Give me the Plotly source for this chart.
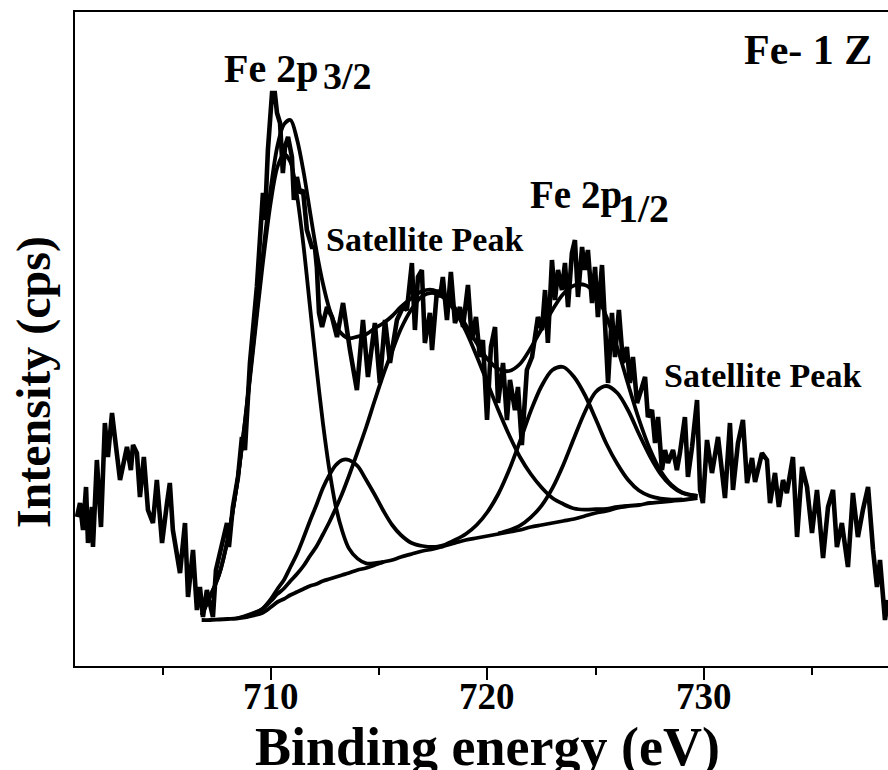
import plotly.graph_objects as go

# ---------------- data (binding energy in eV, intensity in arbitrary units) ----------------
raw_E = [701.04, 701.18, 701.32, 701.46, 701.55, 701.73, 701.78, 701.96, 702.15, 702.33, 702.47, 702.66,
         702.79, 703.03, 703.35, 703.53, 703.63, 703.81, 703.95, 704.13, 704.32, 704.55, 704.73, 704.97,
         705.20, 705.33, 705.47, 705.80, 706.03, 706.17, 706.40, 706.58, 706.72, 706.86, 707.04, 707.18,
         707.32, 707.46, 707.74, 707.97, 708.06, 708.24, 708.48, 708.66, 708.80, 708.94, 709.03, 709.35,
         709.63, 709.72, 709.86, 710.05, 710.18, 710.28, 710.42, 710.55, 710.65, 710.79, 710.97, 711.06,
         711.20, 711.34, 711.48, 711.66, 711.89, 712.03, 712.12, 712.22, 712.36, 712.59, 712.82, 713.05,
         713.33, 713.65, 713.97, 714.25, 714.48, 714.80, 715.03, 715.27, 715.50, 715.82, 716.10, 716.28,
         716.51, 716.65, 716.79, 716.97, 717.11, 717.34, 717.44, 717.67, 717.81, 717.94, 718.13, 718.31,
         718.50, 718.73, 718.87, 719.10, 719.28, 719.47, 719.65, 719.79, 719.98, 720.16, 720.35, 720.49,
         720.72, 720.90, 721.04, 721.27, 721.41, 721.59, 721.82, 722.06, 722.19, 722.33, 722.52, 722.66,
         722.79, 722.98, 723.12, 723.26, 723.44, 723.58, 723.72, 723.90, 724.04, 724.18, 724.37, 724.50,
         724.64, 724.83, 724.97, 725.10, 725.29, 725.43, 725.57, 725.75, 725.89, 726.07, 726.26, 726.44,
         726.58, 726.72, 726.91, 727.14, 727.28, 727.41, 727.60, 727.74, 727.88, 728.06, 728.20, 728.34,
         728.57, 728.75, 728.89, 729.12, 729.26, 729.45, 729.68, 729.82, 729.95, 730.14, 730.37, 730.65,
         730.97, 731.20, 731.34, 731.57, 731.80, 731.99, 732.22, 732.36, 732.68, 732.91, 733.05, 733.28,
         733.46, 733.65, 733.83, 734.11, 734.30, 734.53, 734.76, 734.99, 735.22, 735.50, 735.73, 735.96,
         736.14, 736.37, 736.65, 736.88, 737.11, 737.34, 737.58, 737.81, 737.99, 738.13, 738.36, 738.50]
raw_I = [149, 163, 136, 179, 123, 159, 119, 206, 139, 243, 209, 253,
         229, 186, 219, 196, 221, 213, 169, 209, 156, 143, 186, 123,
         163, 183, 136, 93, 143, 69, 116, 56, 79, 49, 76, 63,
         49, 96, 123, 143, 119, 159, 189, 229, 216, 276, 303, 379,
         473, 446, 516, 573, 573, 553, 543, 493, 519, 529, 509, 466,
         489, 473, 476, 436, 419, 419, 399, 353, 339, 359, 349, 329,
         363, 316, 276, 346, 289, 343, 283, 346, 303, 346, 359, 356,
         403, 336, 389, 396, 323, 353, 316, 376, 369, 389, 346, 394,
         343, 359, 339, 381, 326, 349, 309, 326, 246, 319, 339, 263,
         303, 246, 286, 256, 279, 221, 296, 309, 326, 349, 336, 376,
         323, 406, 366, 396, 376, 403, 359, 413, 426, 369, 419, 396,
         416, 363, 399, 349, 401, 349, 283, 353, 309, 356, 303, 319,
         283, 309, 263, 279, 289, 249, 256, 223, 249, 196, 216, 203,
         216, 196, 213, 249, 189, 219, 266, 176, 163, 226, 193, 229,
         168, 243, 176, 223, 246, 183, 208, 184, 213, 206, 163, 193,
         159, 186, 173, 209, 129, 199, 179, 133, 176, 108, 159, 176,
         119, 143, 99, 173, 129, 156, 179, 116, 79, 106, 46, 66]

base_E = [706.8, 707.2, 707.6, 708.0, 708.4, 708.8, 709.2, 709.6, 710.0, 710.3, 710.6, 710.9, 711.2,
          711.5, 711.8, 712.1, 712.4, 712.7, 713.0, 713.3, 713.6, 714.0, 714.4, 714.8, 715.2, 715.6,
          716.0, 716.5, 717.0, 717.5, 718.0, 718.5, 719.0, 719.5, 720.0, 720.5, 721.0, 721.5, 722.0,
          722.5, 723.0, 723.5, 724.0, 724.5, 725.0, 725.5, 726.0, 726.5, 727.0, 727.5, 728.0, 728.5,
          729.0, 729.7]
base_I = [46, 46, 46.5, 47, 47.5, 48.5, 50.5, 53, 59, 64, 67, 71, 74,
          77, 80, 82, 85, 87, 89, 91, 93, 96, 98, 101, 104, 106,
          109, 112, 115, 117, 120, 123, 126, 128, 130, 132, 134, 136, 139,
          141, 143, 145, 147, 150, 153, 155, 158, 160, 161, 163, 164, 165,
          166, 168]

env_I = [51, 70, 91, 126.5, 177.5, 245, 325, 406, 479, 520, 541.5, 546, 527,
         495, 455, 415.5, 382.5, 357, 340, 331.5, 327.6, 329.4, 331.7, 337.9, 343, 350,
         359, 368, 375, 376, 369, 358, 341, 323, 307, 297, 295, 302, 318,
         337, 356, 372, 380.5, 381, 372, 349, 318, 281.5, 246.5, 217, 195, 181,
         173.5, 170]

p1_E = [706.8, 707.2, 707.6, 708.0, 708.4, 708.8, 709.2, 709.6, 710.0, 710.3, 710.6, 710.9, 711.2,
        711.5, 711.8, 712.1, 712.4, 712.7, 713.0, 713.3, 713.6, 714.0, 714.4, 714.8, 715.2]
p1_I = [51, 70, 91, 126.5, 177.5, 243.5, 320.5, 398, 465, 499, 512, 504, 471,
        421, 360, 299, 243, 196, 159, 134.5, 117.6, 107.4, 102.7, 102.9, 104]

p2_E = [708.8, 709.2, 709.6, 710.0, 710.3, 710.6, 710.9, 711.2, 711.5, 711.8, 712.1, 712.4, 712.7,
        713.0, 713.3, 713.6, 714.0, 714.4, 714.8, 715.2, 715.6, 716.0, 716.5, 717.0, 717.5, 718.0]
p2_I = [48.5, 52.5, 57, 67, 77, 86, 99, 112, 128, 145, 161, 178, 191,
        201, 206, 206, 200, 186, 171, 155, 141, 131, 123, 120, 119, 120]

p3_E = [708.4, 708.8, 709.2, 709.6, 710.0, 710.3, 710.6, 710.9, 711.2, 711.5, 711.8, 712.1, 712.4,
        712.7, 713.0, 713.3, 713.6, 714.0, 714.4, 714.8, 715.2, 715.6, 716.0, 716.5, 717.0, 717.5,
        718.0, 718.5, 719.0, 719.5, 720.0, 720.5, 721.0, 721.5, 722.0, 722.5, 723.0, 723.5, 724.0,
        724.5, 725.0, 725.5, 726.0, 726.5]
p3_I = [47.5, 50, 53, 57, 65, 72, 77.5, 85, 92, 100, 110, 119.5, 131.5,
        144, 158, 173, 190, 214, 239, 266, 292, 315, 337, 357, 370, 373,
        368, 355, 335, 310, 283, 256, 231, 209, 192, 178.5, 168, 162, 157.5,
        156.4, 156.8, 157.2, 159.2, 160]

p4_E = [717.5, 718.0, 718.5, 719.0, 719.5, 720.0, 720.5, 721.0, 721.5, 722.0, 722.5, 723.0, 723.5,
        724.0, 724.5, 725.0, 725.5, 726.0, 726.5, 727.0, 727.5, 728.0, 728.5, 729.0]
p4_I = [118, 121, 126, 132, 141, 154, 172, 196, 224.5, 255, 280, 296, 299,
        289, 271, 247, 222, 202, 186, 175.5, 170, 167.4, 166.4, 166.5]

p5_E = [720.5, 721.0, 721.5, 722.0, 722.5, 723.0, 723.5, 724.0, 724.5, 725.0, 725.5, 726.0, 726.5,
        727.0, 727.5, 728.0, 728.5, 729.0, 729.7]
p5_I = [132.6, 135.7, 140.3, 148.6, 160.3, 177.8, 201, 228, 254, 274, 280, 273, 255.5,
        232, 210, 192, 180, 173, 170]

x_ticks = [710, 720, 730]
x_tick_text = ["710", "720", "730"]
x_minor_ticks = [705, 715, 725, 735]

FONT = "Liberation Serif, Times New Roman, serif"

fig = go.Figure()

fit_sets = [(base_E, base_I), (p1_E, p1_I), (p2_E, p2_I), (p3_E, p3_I),
            (p4_E, p4_I), (p5_E, p5_I), (base_E, env_I)]
for ex, iy in fit_sets:
    fig.add_trace(go.Scatter(x=ex, y=iy, mode="lines",
                             line=dict(color="black", width=3.8, shape="spline", smoothing=0.9),
                             hoverinfo="skip", showlegend=False))

fig.add_trace(go.Scatter(x=raw_E, y=raw_I, mode="lines",
                         line=dict(color="black", width=4.6),
                         hoverinfo="skip", showlegend=False))

fig.update_layout(
    width=888, height=770,
    margin=dict(l=75, r=0, t=12, b=104),
    paper_bgcolor="white", plot_bgcolor="white",
    showlegend=False,
    xaxis=dict(range=[700.95, 738.5], showgrid=False, zeroline=False,
               showline=True, linecolor="black", linewidth=2, mirror=True,
               ticks="outside", ticklen=12, tickwidth=2, tickcolor="black",
               tickvals=x_ticks, showticklabels=False,
               minor=dict(tickvals=x_minor_ticks, ticks="outside", ticklen=7,
                          tickwidth=2, tickcolor="black", showgrid=False)),
    yaxis=dict(range=[0, 654], showgrid=False, zeroline=False,
               showline=True, linecolor="black", linewidth=2, mirror=False,
               showticklabels=False, ticks=""),
)

# tick labels (placed close under the ticks, as in the reference)
for tv, tt in zip(x_ticks, x_tick_text):
    fig.add_annotation(text="<b>%s</b>" % tt, x=tv, y=-0.046, xref="x", yref="paper",
                       xanchor="center", yanchor="middle", showarrow=False,
                       font=dict(family=FONT, size=37, color="black"))

annotations = [
    dict(text="Fe 2p", x=707.74, y=598, size=40),
    dict(text="3/2", x=712.33, y=590, size=38),
    dict(text="Fe 2p", x=721.87, y=471, size=39),
    dict(text="1/2", x=725.95, y=458, size=40),
    dict(text="Fe- 1 Z", x=731.75, y=616, size=42),
    dict(text="Satellite Peak", x=712.45, y=427, size=34),
    dict(text="Satellite Peak", x=728.05, y=291, size=34),
]
for a in annotations:
    fig.add_annotation(text="<b>%s</b>" % a["text"], x=a["x"], y=a["y"], xref="x", yref="y",
                       xanchor="left", yanchor="middle", showarrow=False,
                       font=dict(family=FONT, size=a["size"], color="black"))

fig.add_annotation(text="<b>Intensity (cps)</b>", xref="paper", yref="paper",
                   x=-0.0505, y=0.434, textangle=-90, showarrow=False,
                   xanchor="center", yanchor="middle",
                   font=dict(family=FONT, size=48, color="black"))
fig.add_annotation(text="<b>Binding energy (eV)</b>", xref="paper", yref="paper",
                   x=0.507, y=-0.124, showarrow=False,
                   xanchor="center", yanchor="middle",
                   font=dict(family=FONT, size=54, color="black"))

fig.write_html("out.html")
